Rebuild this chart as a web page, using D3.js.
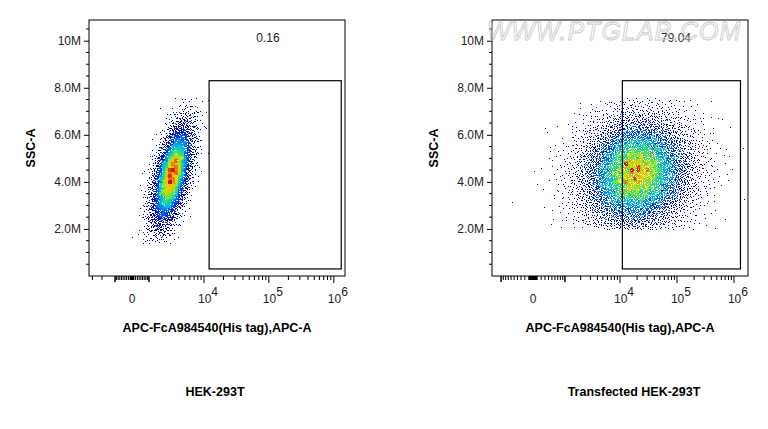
<!DOCTYPE html>
<html><head><meta charset="utf-8">
<script src="https://cdn.jsdelivr.net/npm/d3@7"></script>
<style>body{margin:0;background:#fff}svg{font-family:Arial,"Liberation Sans",sans-serif}</style>
</head><body>
<svg id="c" width="768" height="429"></svg>
<script>
// ---- data ----
const panelTitles = ["HEK-293T", "Transfected HEK-293T"];
const gatePercent = ["0.16", "79.04"];
const xAxisTitle = "APC-FcA984540(His tag),APC-A";
const yAxisTitle = "SSC-A";
const yTickValues = [2e6, 4e6, 6e6, 8e6, 10e6];
const yTickLabels = ["2.0M", "4.0M", "6.0M", "8.0M", "10M"];
const xTickValues = [0, 1e4, 1e5, 1e6];
// gate: [xmin, xmax, ymin, ymax] in data units
const gateLeft = [1.2e4, 1.3e6, 0.3e6, 8.3e6];
const gateRight = [1.1e4, 1.3e6, 0.3e6, 8.3e6];
// population estimates: centre APC, SSC centre/sd (M), APC spread in decades, slope (decades per M), events
const popCenterX = [3000, 19000];
const popCenterY = [4.3, 4.4];
const popSdY = [1.1, 1.25];
const popSdX = [0.13, 0.5];
const popSlope = [0.08, 0.03];
const popEvents = [5500, 8000];
const popYRange = [[1.4, 7.6], [2.0, 7.6]];
const cofactor = [785, 298];

const svg = d3.select("#c");
const panels = [
  {x0: 89, x1: 345, zeroPx: 132, decadePx: 65},
  {x0: 492, x1: 748, zeroPx: 533, decadePx: 57}
];
const yTop = 20, yBot = 276;
const jet = d3.interpolateRgbBasis(["#0000a0","#0010e0","#0070ff","#00d0e0","#30e070","#b0e800","#ffd000","#ff5000","#d00000"]);

function halton(i, b){let f=1,r=0;while(i>0){f/=b;r+=f*(i%b);i=Math.floor(i/b);}return r;}

panels.forEach((P, k) => {
  const c = cofactor[k];
  const tf = v => Math.asinh(v/(2*c))/Math.LN10;
  const tinv = t => 2*c*Math.sinh(t*Math.LN10);
  const lin = d3.scaleLinear().domain([0, 1]).range([P.zeroPx, P.zeroPx + P.decadePx]);
  const x = v => lin(tf(v));
  const y = d3.scaleLinear().domain([0, 10.88e6]).range([yBot, yTop]);
  const g = svg.append("g");

  // events
  const pts = [];
  const ct = tf(popCenterX[k]);
  for (let i = 1; pts.length < popEvents[k] && i < popEvents[k]*3; i++) {
    const u1 = halton(i, 2), u2 = halton(i, 3), u3 = halton(i, 5);
    const r = Math.sqrt(-2*Math.log(u1 || 1e-9));
    const z1 = r*Math.cos(2*Math.PI*u2), z2 = r*Math.sin(2*Math.PI*u2);
    const yy = popCenterY[k] + popSdY[k]*z1;
    if (yy < popYRange[k][0] || yy > popYRange[k][1]) continue;
    const tt = ct + popSdX[k]*z2 + popSlope[k]*(yy - popCenterY[k]);
    pts.push({v:[tinv(tt), yy*1e6], j:u3});
  }
  const bin = 3, grid = new Map();
  const key = p => Math.floor(x(p.v[0])/bin)+","+Math.floor(y(p.v[1])/bin);
  pts.forEach(p => {const kk = key(p); grid.set(kk, (grid.get(kk)||0)+1);});
  const mx = d3.max(grid.values());
  pts.forEach(p => p.d = Math.min(1, (grid.get(key(p)) - 1 + p.j*1.5)/mx));
  pts.sort((a,b) => a.d - b.d);
  g.selectAll("rect.ev").data(pts).join("rect").attr("class","ev")
    .attr("x", d => Math.round(x(d.v[0]))).attr("y", d => Math.round(y(d.v[1]))).attr("width", 1).attr("height", 1)
    .attr("fill", d => jet(Math.pow(d.d, 1.3)));

  // frame
  g.append("rect").attr("x", P.x0).attr("y", yTop).attr("width", P.x1-P.x0).attr("height", yBot-yTop)
    .attr("fill","none").attr("stroke","#000").attr("stroke-width",1);

  // y axis
  const ya = d3.axisLeft(y).tickValues(yTickValues).tickFormat((d,i)=>yTickLabels[i]).tickSize(5);
  const yg = g.append("g").attr("transform",`translate(${P.x0},0)`).call(ya);
  yg.select(".domain").remove();
  yg.selectAll("text").attr("font-size", 12).attr("fill","#222");
  const yMinor = d3.range(0.5e6, 10.8e6, 0.5e6).filter(v => !yTickValues.includes(v));
  g.selectAll("line.ym").data(yMinor).join("line").attr("x1",P.x0-3).attr("x2",P.x0)
    .attr("y1",d=>y(d)).attr("y2",d=>y(d)).attr("stroke","#000");

  // x axis
  const minor = [];
  for (let n = 1; n <= 3; n++) for (let m = 1; m <= 9; m++) { minor.push(m*10**n); minor.push(-m*10**n); }
  for (let n = 4; n <= 5; n++) for (let m = 2; m <= 9; m++) minor.push(m*10**n);
  minor.push(1e3, -1e3);
  const xMin = tinv(lin.invert(P.x0)), xMax = tinv(lin.invert(P.x1));
  g.selectAll("line.xm").data(minor.filter(v => v > xMin && v < xMax)).join("line")
    .attr("x1",d=>x(d)).attr("x2",d=>x(d)).attr("y1",yBot).attr("y2",d=> Math.abs(d)===1e3?yBot+6:yBot+4).attr("stroke","#000");
  g.selectAll("line.xM").data(xTickValues.filter(v=>v>0)).join("line")
    .attr("x1",d=>x(d)).attr("x2",d=>x(d)).attr("y1",yBot).attr("y2",yBot+7).attr("stroke","#000");
  xTickValues.forEach(v => {
    const t = g.append("text").attr("y", 303).attr("font-size", 12).attr("fill","#222");
    if (v === 0) t.attr("x", x(0)).attr("text-anchor","middle").text("0");
    else {
      t.attr("x", x(v)+4).attr("text-anchor","middle").text("10");
      t.append("tspan").attr("dy",-7).attr("font-size",12).text(Math.round(Math.log10(v)));
    }
  });

  // gate
  const G = k === 0 ? gateLeft : gateRight;
  g.append("rect").attr("x", x(G[0])).attr("y", y(G[3])).attr("width", x(G[1])-x(G[0]))
    .attr("height", y(G[2])-y(G[3])).attr("fill","none").attr("stroke","#000").attr("stroke-width",1.2);
  g.append("text").attr("x", k===0?268:676).attr("y", 42).attr("text-anchor","middle")
    .attr("font-size",12).attr("fill","#222").text(gatePercent[k]);

  // titles
  g.append("text").attr("x",(P.x0+P.x1)/2).attr("y",332).attr("text-anchor","middle")
    .attr("font-size",12.5).attr("font-weight","bold").text(xAxisTitle);
  g.append("text").attr("transform",`translate(${P.x0-54},148) rotate(-90)`).attr("text-anchor","middle")
    .attr("font-size",12.5).attr("font-weight","bold").text(yAxisTitle);
  g.append("text").attr("x", k===0?215:634).attr("y",396).attr("text-anchor","middle")
    .attr("font-size",12.5).attr("font-weight","bold").text(panelTitles[k]);
});

// watermark
svg.append("text").attr("x",614).attr("y",40).attr("text-anchor","middle")
  .attr("font-size",25).attr("font-style","italic").attr("fill","none")
  .attr("stroke","#c8c8c8").attr("stroke-width",0.8).attr("letter-spacing",1).text("WWW.PTGLAB.COM");
</script>
</body></html>
